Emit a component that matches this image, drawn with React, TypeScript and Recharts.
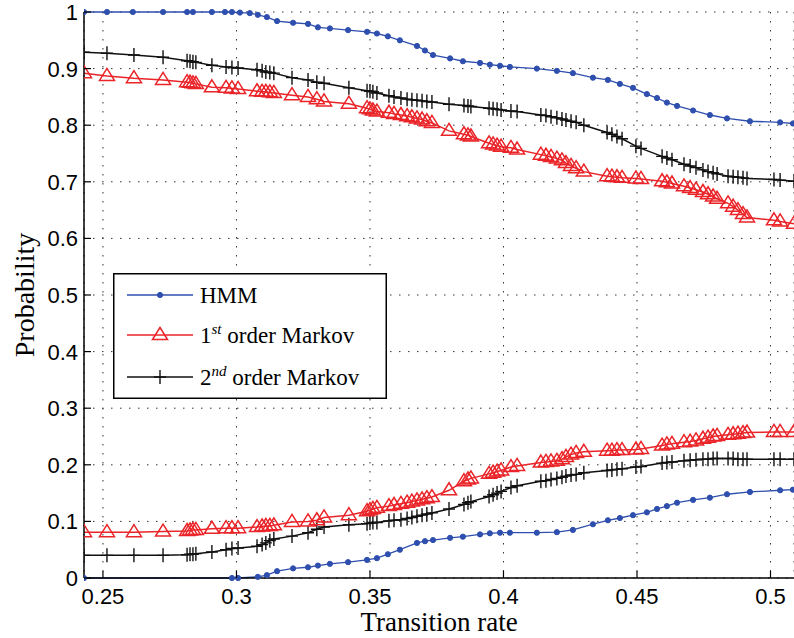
import { CartesianGrid, Legend, Line, LineChart, XAxis, YAxis } from "recharts";

const BLUE = "#2f4fae";
const RED = "#ea2428";
const BLACK = "#111111";
const SANS = "'Liberation Sans', Arial, sans-serif";
const SERIF = "'Liberation Serif', 'Times New Roman', serif";

const xTicks = [0.25, 0.3, 0.35, 0.4, 0.45, 0.5];
const yTicks = [0, 0.1, 0.2, 0.3, 0.4, 0.5, 0.6, 0.7, 0.8, 0.9, 1];

// HMM curves (blue dots)
const hmmUpperX = [
  0.2429, 0.2515, 0.2612, 0.2725, 0.2815, 0.2837, 0.2908, 0.2957, 0.2983, 0.3013,
  0.305, 0.308, 0.3114, 0.3152, 0.3212, 0.3268, 0.3305, 0.335, 0.3418, 0.3489,
  0.3526, 0.3567, 0.3612, 0.3676, 0.3706, 0.3736, 0.38, 0.3848, 0.3912, 0.3949,
  0.3987, 0.4024, 0.4125, 0.42, 0.426, 0.4335, 0.4391, 0.4436, 0.4485, 0.4537,
  0.4575, 0.4612, 0.465, 0.471, 0.4773, 0.4837, 0.4923, 0.5036, 0.5084,
];
const hmmUpperY = [
  1, 1, 1, 1, 1, 1, 1, 1, 1, 0.999,
  0.998, 0.995, 0.991, 0.984, 0.981, 0.979, 0.973, 0.971, 0.968, 0.965,
  0.962, 0.957, 0.95, 0.94, 0.932, 0.924, 0.918, 0.913, 0.91, 0.907,
  0.905, 0.903, 0.9, 0.896, 0.892, 0.884, 0.88, 0.873, 0.866, 0.855,
  0.848, 0.84, 0.834, 0.826, 0.818, 0.812, 0.807, 0.805, 0.803,
];
const hmmLowerX = [
  0.2429, 0.2983, 0.3006, 0.308, 0.3114, 0.3152, 0.3212, 0.3268, 0.3305, 0.335,
  0.3418, 0.3489, 0.3526, 0.3567, 0.3612, 0.3676, 0.3706, 0.3736, 0.38, 0.3848,
  0.3912, 0.3949, 0.3987, 0.4024, 0.4125, 0.42, 0.426, 0.4335, 0.4391, 0.4436,
  0.4485, 0.4537, 0.4575, 0.4612, 0.465, 0.471, 0.4773, 0.4837, 0.4923, 0.5036, 0.5084,
];
const hmmLowerY = [
  0, 0, 0, 0.002, 0.005, 0.012, 0.017, 0.019, 0.022, 0.025,
  0.028, 0.032, 0.035, 0.042, 0.05, 0.062, 0.065, 0.067, 0.071, 0.073,
  0.077, 0.079, 0.08, 0.08, 0.08, 0.081, 0.085, 0.095, 0.102, 0.106,
  0.111, 0.116, 0.122, 0.127, 0.133, 0.138, 0.142, 0.148, 0.152, 0.155, 0.156,
];

// Markov curves share the same transition rates
const markovX = [
  0.2429, 0.2515, 0.2616, 0.2725, 0.2815, 0.2826, 0.2837, 0.2848, 0.2908, 0.2961,
  0.2983, 0.3006, 0.3077, 0.3096, 0.311, 0.3125, 0.314, 0.3208, 0.3268, 0.3301,
  0.3328, 0.3421, 0.3489, 0.35, 0.3511, 0.3526, 0.3571, 0.359, 0.3616, 0.3639,
  0.3657, 0.3676, 0.3695, 0.3713, 0.3732, 0.3796, 0.3852, 0.3867, 0.3878, 0.3946,
  0.3961, 0.3976, 0.3991, 0.4028, 0.4051, 0.414, 0.4159, 0.4178, 0.42, 0.4219,
  0.4234, 0.4253, 0.4272, 0.4301, 0.4388, 0.4406, 0.4425, 0.4444, 0.4496, 0.4515,
  0.4594, 0.4612, 0.4631, 0.4676, 0.4699, 0.4721, 0.4747, 0.4766, 0.4785, 0.48,
  0.4841, 0.486, 0.4878, 0.4897, 0.4912, 0.5013, 0.5036, 0.5088,
];
const firstUpperY = [
  0.892, 0.887, 0.883, 0.88, 0.876, 0.875, 0.874, 0.873, 0.867, 0.866,
  0.865, 0.864, 0.86, 0.859, 0.859, 0.858, 0.857, 0.853, 0.85, 0.846,
  0.842, 0.838, 0.83, 0.828, 0.826, 0.824, 0.822, 0.82, 0.818, 0.816,
  0.814, 0.812, 0.81, 0.807, 0.804, 0.79, 0.784, 0.782, 0.78, 0.768,
  0.766, 0.764, 0.762, 0.76, 0.757, 0.748, 0.746, 0.744, 0.741, 0.738,
  0.733, 0.728, 0.724, 0.718, 0.71, 0.709, 0.708, 0.707, 0.706, 0.705,
  0.701, 0.699, 0.697, 0.692, 0.689, 0.686, 0.682, 0.678, 0.674, 0.67,
  0.662, 0.656, 0.65, 0.643, 0.637, 0.632, 0.63, 0.626,
];
const firstLowerY = [
  0.081, 0.081, 0.081, 0.082, 0.083, 0.084, 0.085, 0.085, 0.087, 0.088,
  0.088, 0.088, 0.09, 0.091, 0.092, 0.092, 0.093, 0.099, 0.1, 0.102,
  0.107, 0.111, 0.118, 0.12, 0.122, 0.124, 0.127, 0.129, 0.131, 0.133,
  0.135, 0.137, 0.139, 0.141, 0.143, 0.155, 0.171, 0.174, 0.176, 0.184,
  0.186, 0.188, 0.19, 0.196, 0.198, 0.204, 0.205, 0.206, 0.207, 0.21,
  0.214, 0.218, 0.221, 0.223, 0.225, 0.225, 0.226, 0.226, 0.227, 0.228,
  0.234, 0.236, 0.237, 0.24, 0.241, 0.243, 0.246, 0.248, 0.25, 0.251,
  0.253, 0.254, 0.255, 0.256, 0.257, 0.258, 0.258, 0.258,
];
const secondUpperY = [
  0.929, 0.927, 0.924, 0.92, 0.914, 0.913, 0.912, 0.911, 0.906, 0.903,
  0.902, 0.901, 0.898, 0.896, 0.894, 0.893, 0.892, 0.884, 0.88, 0.876,
  0.874, 0.866, 0.861, 0.86, 0.859, 0.857, 0.852, 0.85, 0.848, 0.846,
  0.845, 0.844, 0.843, 0.842, 0.841, 0.837, 0.835, 0.834, 0.833, 0.83,
  0.829, 0.828, 0.827, 0.825, 0.824, 0.818, 0.817, 0.815, 0.813, 0.811,
  0.809, 0.807, 0.805, 0.8, 0.787, 0.784, 0.78, 0.776, 0.763, 0.759,
  0.745, 0.742, 0.739, 0.731, 0.728, 0.725, 0.721, 0.718, 0.716, 0.714,
  0.71, 0.709, 0.708, 0.707, 0.706, 0.704, 0.703, 0.701,
];
const secondLowerY = [
  0.04, 0.04, 0.04, 0.04, 0.041, 0.042, 0.042, 0.043, 0.046, 0.05,
  0.052, 0.053, 0.056, 0.059, 0.062, 0.066, 0.069, 0.074, 0.08, 0.086,
  0.09, 0.094, 0.096, 0.097, 0.098, 0.098, 0.101, 0.102, 0.103, 0.105,
  0.107, 0.109, 0.111, 0.113, 0.115, 0.122, 0.13, 0.133, 0.135, 0.144,
  0.147, 0.15, 0.153, 0.16, 0.163, 0.171, 0.172, 0.174, 0.176, 0.178,
  0.18, 0.182, 0.183, 0.186, 0.19, 0.191, 0.192, 0.193, 0.196, 0.197,
  0.203, 0.204, 0.205, 0.207, 0.208, 0.209, 0.21, 0.21, 0.211, 0.211,
  0.211, 0.211, 0.21, 0.21, 0.21, 0.21, 0.21, 0.21,
];

const toPoints = (xs: number[], ys: number[]) => xs.map((x, i) => ({ x, y: ys[i] }));

const hmmUpper = toPoints(hmmUpperX, hmmUpperY);
const hmmLower = toPoints(hmmLowerX, hmmLowerY);
const firstUpper = toPoints(markovX, firstUpperY);
const firstLower = toPoints(markovX, firstLowerY);
const secondUpper = toPoints(markovX, secondUpperY);
const secondLower = toPoints(markovX, secondLowerY);

function Dot({ cx, cy }: { cx: number; cy: number }) {
  return <circle cx={cx} cy={cy} r={2.6} fill={BLUE} stroke={BLUE} />;
}

function Triangle({ cx, cy }: { cx: number; cy: number }) {
  return (
    <path
      d={`M${cx},${cy - 7.5}L${cx + 7.5},${cy + 4.5}L${cx - 7.5},${cy + 4.5}Z`}
      fill="none"
      stroke={RED}
      strokeWidth={1.5}
    />
  );
}

function Plus({ cx, cy }: { cx: number; cy: number }) {
  return (
    <path
      d={`M${cx},${cy - 7}V${cy + 7}M${cx - 6},${cy}H${cx + 6}`}
      stroke={BLACK}
      strokeWidth={1.4}
    />
  );
}

const dotRenderer = (Marker: typeof Dot, name: string) => (props: any) => {
  if (props.cx == null || props.cy == null) return <g key={`${name}-${props.index}`} />;
  return (
    <g key={`${name}-${props.index}`}>
      <Marker cx={props.cx} cy={props.cy} />
    </g>
  );
};

function BottomTick({ x, y, payload }: any) {
  return (
    <g>
      <line x1={x} x2={x} y1={y} y2={y - 7} stroke="#000" strokeWidth={1.2} />
      <text x={x} y={y + 26} textAnchor="middle" fontFamily={SANS} fontSize={22} fill="#000">
        {String(payload.value)}
      </text>
    </g>
  );
}

function TopTick({ x, y }: any) {
  return <line x1={x} x2={x} y1={y} y2={y + 7} stroke="#000" strokeWidth={1.2} />;
}

function LeftTick({ x, y, payload }: any) {
  return (
    <g>
      <line x1={x} x2={x + 7} y1={y} y2={y} stroke="#000" strokeWidth={1.2} />
      <text x={x - 6} y={y + 8} textAnchor="end" fontFamily={SANS} fontSize={22} fill="#000">
        {String(payload.value)}
      </text>
    </g>
  );
}

const legendColors = [BLUE, RED, BLACK];
const legendMarkers = [Dot, Triangle, Plus];
const legendLead = ["HMM", "1", "2"];
const legendSup = ["", "st", "nd"];
const legendTail = ["", " order Markov", " order Markov"];

function LegendBox() {
  const rows = [22, 62, 104];
  return (
    <svg width={274} height={126} style={{ display: "block" }}>
      <rect x={0.75} y={0.75} width={272.5} height={124.5} fill="#fff" stroke="#000" strokeWidth={1.5} />
      {rows.map((ry, i) => {
        const Marker = legendMarkers[i];
        return (
          <g key={i}>
            <line x1={14} x2={80} y1={ry} y2={ry} stroke={legendColors[i]} strokeWidth={1.5} />
            <Marker cx={47} cy={ry} />
            <text x={87} y={ry + 8} fontFamily={SERIF} fontSize={23} fill="#000">
              {legendLead[i]}
              {legendSup[i] && (
                <tspan dy={-9} fontSize={15} fontStyle="italic">
                  {legendSup[i]}
                </tspan>
              )}
              {legendTail[i] && <tspan dy={9}>{legendTail[i]}</tspan>}
            </text>
          </g>
        );
      })}
    </svg>
  );
}

export default function App() {
  return (
    <div style={{ position: "absolute", left: 0, top: 0, width: 794, height: 638, background: "#fff" }}>
      <LineChart width={794} height={638} margin={{ top: 12, right: 0, bottom: 0, left: 0 }}>
        <CartesianGrid stroke="#333" strokeDasharray="1.5 7.5" strokeWidth={1} />
        <XAxis
          type="number"
          dataKey="x"
          domain={[0.2429, 0.5088]}
          ticks={xTicks}
          interval={0}
          height={60}
          tickSize={0}
          tickMargin={0}
          tickLine={false}
          tick={<BottomTick />}
          axisLine={{ stroke: "#000", strokeWidth: 1.5 }}
          allowDataOverflow
          label={{
            value: "Transition rate",
            position: "insideBottom",
            offset: 7,
            fontFamily: SERIF,
            fontSize: 27,
            fill: "#000",
          }}
        />
        <XAxis
          xAxisId="top"
          orientation="top"
          type="number"
          dataKey="x"
          domain={[0.2429, 0.5088]}
          ticks={xTicks}
          interval={0}
          height={0}
          tickSize={0}
          tickMargin={0}
          tickLine={false}
          tick={<TopTick />}
          axisLine={{ stroke: "#000", strokeWidth: 1.5 }}
        />
        <YAxis
          type="number"
          domain={[0, 1]}
          ticks={yTicks}
          interval={0}
          width={84}
          tickSize={0}
          tickMargin={0}
          tickLine={false}
          tick={<LeftTick />}
          axisLine={{ stroke: "#000", strokeWidth: 1.5 }}
          label={{
            value: "Probability",
            angle: -90,
            position: "insideLeft",
            offset: 24,
            fontFamily: SERIF,
            fontSize: 28,
            fill: "#000",
            style: { textAnchor: "middle" },
          }}
        />
        <Line data={secondUpper} dataKey="y" name="2nd order Markov" stroke={BLACK} strokeWidth={1.5} dot={dotRenderer(Plus, "su")} legendType="none" isAnimationActive={false} />
        <Line data={secondLower} dataKey="y" name="2nd order Markov (low)" stroke={BLACK} strokeWidth={1.5} dot={dotRenderer(Plus, "sl")} legendType="none" isAnimationActive={false} />
        <Line data={firstUpper} dataKey="y" name="1st order Markov" stroke={RED} strokeWidth={1.5} dot={dotRenderer(Triangle, "fu")} legendType="none" isAnimationActive={false} />
        <Line data={firstLower} dataKey="y" name="1st order Markov (low)" stroke={RED} strokeWidth={1.5} dot={dotRenderer(Triangle, "fl")} legendType="none" isAnimationActive={false} />
        <Line data={hmmUpper} dataKey="y" name="HMM" stroke={BLUE} strokeWidth={1.3} dot={dotRenderer(Dot, "hu")} legendType="none" isAnimationActive={false} />
        <Line data={hmmLower} dataKey="y" name="HMM (low)" stroke={BLUE} strokeWidth={1.3} dot={dotRenderer(Dot, "hl")} legendType="none" isAnimationActive={false} />
        <Legend
          layout="vertical"
          align="center"
          verticalAlign="middle"
          wrapperStyle={{ left: 113, top: 273, width: 274, height: 126 }}
          content={() => <LegendBox />}
        />
      </LineChart>
    </div>
  );
}
